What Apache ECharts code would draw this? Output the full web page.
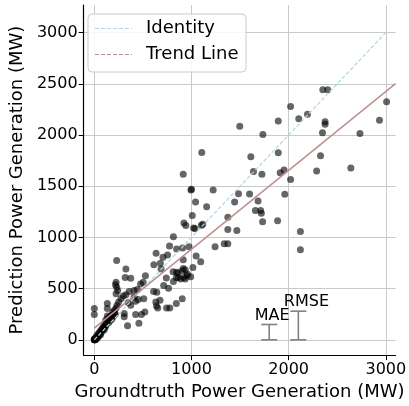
<!DOCTYPE html>
<html>
<head>
<meta charset="utf-8">
<script src="https://cdn.jsdelivr.net/npm/echarts@6/dist/echarts.min.js"></script>
<style>html,body{margin:0;padding:0;background:#fff}#c{width:409px;height:406px}</style>
</head>
<body>
<div id="c"></div>
<script>
// ---- data ----
const groundtruth = [
 2352,2402,3008,2020,2194,2104,1893,1497,2375,2375,2935,1735,2348,2734,1611,1893,2328,1106,1638,1725,
 1953,1913,2288,2640,915,2020,1484,1598,1960,995,1000,1223,1444,1685,1042,1156,1374,1658,1712,1719,
 1732,1886,1008,922,942,1022,1035,1102,1116,1374,1467,1337,1374,2121,2121,814,774,847,908,975,
 1243,636,707,754,1048,1095,613,680,915,230,
 915,935,958,921,864,847,992,1015,741,814,714,764,687,811,861,905,955,888,844,935,
 643,610,676,633,653,744,777,844,905,640,520,
 325,224,218,231,241,224,318,375,526,503,476,442,409,359,325,298,275,251,234,224,
 208,191,509,452,409,425,349,375,134,134,134,0,0,308,308,425,485,342,459,175,
 158,141,124,117,107,95,84,70,57,45,30,20,7,
 0,0,0,5,10,15,3,8,25,35,40,50,60,65,75,90,100,110,115,125,150,160,165,180,190,200,210,215
];
const prediction = [
 2443,2443,2324,2279,2202,2160,2138,2086,2131,2105,2144,2006,2022,2015,1787,1826,1797,1829,1643,1617,
 1659,1633,1649,1678,1617,1565,1427,1424,1421,1463,1470,1463,1347,1357,1347,1299,1196,1263,1263,1237,
 1154,1164,1215,1141,1116,1093,1087,1119,1128,1077,1067,938,938,1058,880,1006,916,887,897,909,
 909,846,807,829,820,762,733,749,781,775,
 697,685,643,610,610,659,617,707,604,569,530,504,691,665,653,675,627,595,610,595,
 466,473,386,369,311,311,311,354,402,331,273,
 691,562,537,514,482,450,610,601,627,562,546,492,482,473,441,427,402,369,338,311,
 289,273,402,395,418,376,364,338,354,306,234,306,248,257,225,248,248,138,161,241,
 225,209,177,193,145,130,113,95,80,65,48,30,16,
 0,0,5,0,3,8,0,2,12,22,35,40,60,52,78,100,95,120,135,150,170,190,210,200,225,240,260,250
];
const identityX = [0, 3000];
const identityY = [0, 3000];
const trendX = [0, 3100];
const trendY = [115, 2502];
const errorLabels = ['MAE', 'RMSE'];
const errorX = [1800, 2100];
const errorValues = [150, 280];
const xTicks = [0, 1000, 2000, 3000];
const yTicks = [0, 500, 1000, 1500, 2000, 2500, 3000];
const xTitle = 'Groundtruth Power Generation (MW)';
const yTitle = 'Prediction Power Generation (MW)';
const legendNames = ['Identity', 'Trend Line'];

const FONT = 'DejaVu Sans';
const points = groundtruth.map((g, i) => [g, prediction[i]]);
const gridLines = xTicks.map(v => ({xAxis: v})).concat(yTicks.map(v => ({yAxis: v})));

const chart = echarts.init(document.getElementById('c'), null, {renderer: 'canvas'});
chart.setOption({
  animation: false,
  backgroundColor: '#ffffff',
  grid: {left: 78, right: 11, top: 5, bottom: 45, containLabel: false},
  xAxis: {
    type: 'value', min: -110, max: 3100,
    name: xTitle, nameLocation: 'middle', nameGap: 27,
    nameTextStyle: {fontFamily: FONT, fontSize: 18, color: '#000'},
    axisLine: {show: true, onZero: false, lineStyle: {color: '#000', width: 1.2}},
    axisTick: {show: true, customValues: xTicks, length: 5, lineStyle: {color: '#000', width: 1}},
    axisLabel: {customValues: xTicks, fontFamily: FONT, fontSize: 16, color: '#000', margin: 7, formatter: v => String(v)},
    splitLine: {show: false}
  },
  yAxis: {
    type: 'value', min: -149, max: 3270,
    name: yTitle, nameLocation: 'middle', nameGap: 52,
    nameTextStyle: {fontFamily: FONT, fontSize: 18, color: '#000'},
    axisLine: {show: true, onZero: false, lineStyle: {color: '#000', width: 1.2}},
    axisTick: {show: true, customValues: yTicks, length: 5, lineStyle: {color: '#000', width: 1}},
    axisLabel: {customValues: yTicks, fontFamily: FONT, fontSize: 16, color: '#000', margin: 6, formatter: v => String(v)},
    splitLine: {show: false}
  },
  series: [
    {
      type: 'line', data: [], silent: true, z: 0,
      markLine: {silent: true, symbol: ['none', 'none'], z: 0, animation: false,
        label: {show: false}, lineStyle: {color: '#c9c9c9', width: 1, type: 'solid'},
        emphasis: {disabled: true}, data: gridLines}
    },
    {
      type: 'scatter', data: points, symbolSize: 7, z: 2,
      itemStyle: {color: 'rgba(0,0,0,0.75)'}
    },
    {
      type: 'line', name: legendNames[0], data: identityX.map((x, i) => [x, identityY[i]]),
      showSymbol: false, symbol: 'none', z: 3,
      lineStyle: {color: '#add8e6', width: 1.2, type: [4, 2]}
    },
    {
      type: 'line', name: legendNames[1], data: trendX.map((x, i) => [x, trendY[i]]),
      showSymbol: false, symbol: 'none', z: 3,
      lineStyle: {color: '#bc8f8f', width: 1.5, type: 'solid'}
    },
    {
      type: 'custom', z: 4,
      data: errorX.map((x, i) => [x, errorValues[i], i]),
      renderItem: function (params, api) {
        const x = api.value(0), v = api.value(1), idx = api.value(2);
        const p0 = api.coord([x, 0]), p1 = api.coord([x, v]);
        const cap = 8;
        const st = {stroke: '#808080', lineWidth: 1.6};
        return {type: 'group', children: [
          {type: 'line', shape: {x1: p0[0], y1: p0[1], x2: p1[0], y2: p1[1]}, style: st},
          {type: 'line', shape: {x1: p0[0] - cap, y1: p0[1], x2: p0[0] + cap, y2: p0[1]}, style: st},
          {type: 'line', shape: {x1: p1[0] - cap, y1: p1[1], x2: p1[0] + cap, y2: p1[1]}, style: st},
          {type: 'text', style: {text: errorLabels[idx], x: p1[0] - 14.5, y: p1[1] - 1,
            textAlign: 'left', textVerticalAlign: 'bottom', fill: '#000', font: '16px "DejaVu Sans"'}}
        ]};
      }
    }
  ],
  graphic: [
    {type: 'rect', shape: {x: 88, y: 14, width: 158, height: 58, r: 4}, z: 10,
      style: {fill: 'rgba(255,255,255,0.85)', stroke: '#cccccc', lineWidth: 1}},
    {type: 'line', shape: {x1: 95, y1: 28.5, x2: 132, y2: 28.5}, z: 11,
      style: {stroke: '#add8e6', lineWidth: 1.2, lineDash: [4, 2]}},
    {type: 'line', shape: {x1: 95, y1: 54.5, x2: 132, y2: 54.5}, z: 11,
      style: {stroke: '#bc8f8f', lineWidth: 1.2, lineDash: [4, 2]}},
    {type: 'text', x: 146, y: 28.5, z: 11,
      style: {text: legendNames[0], fill: '#000', font: '18px "DejaVu Sans"', textVerticalAlign: 'middle'}},
    {type: 'text', x: 146, y: 54.5, z: 11,
      style: {text: legendNames[1], fill: '#000', font: '18px "DejaVu Sans"', textVerticalAlign: 'middle'}}
  ]
});
</script>
</body>
</html>
